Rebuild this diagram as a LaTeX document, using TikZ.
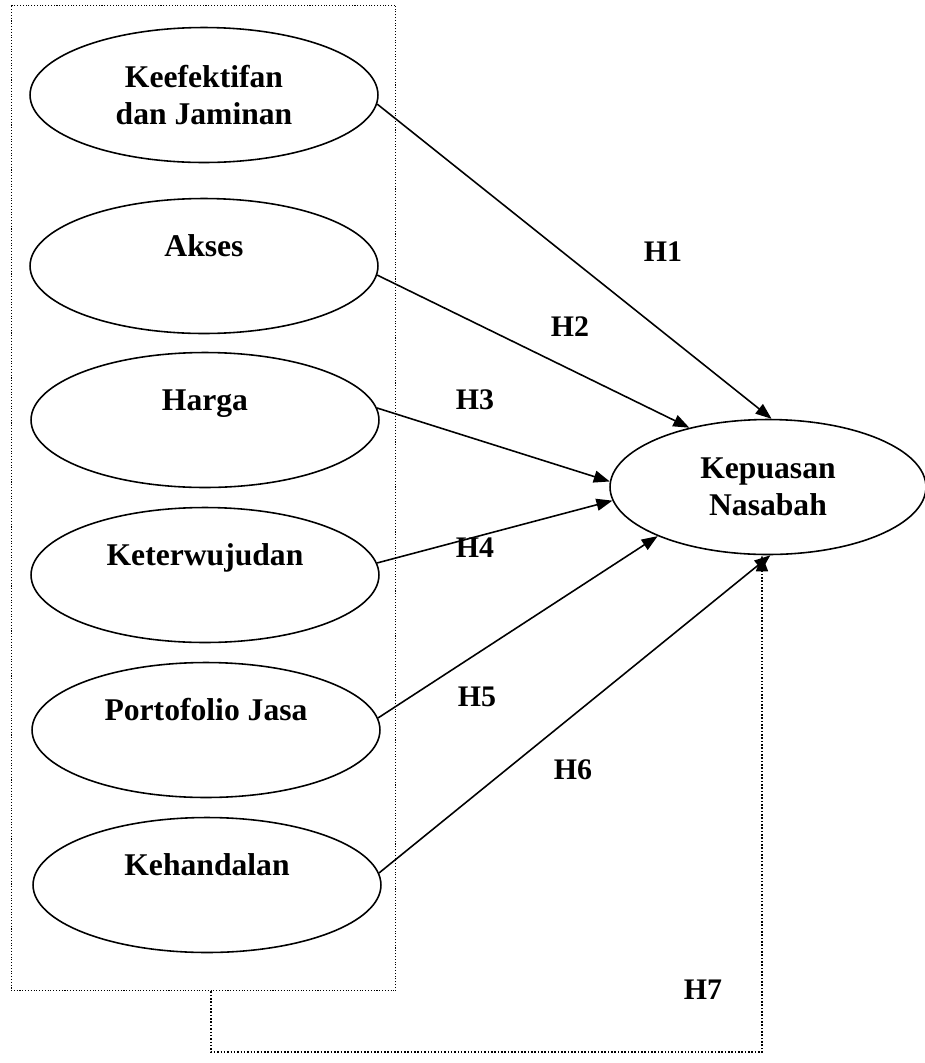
\documentclass[tikz,border=0pt]{standalone}
\usepackage{fontspec}
\setmainfont{Liberation Serif}
\usetikzlibrary{arrows.meta,shapes.geometric}

\begin{document}
\begin{tikzpicture}[x=0.02cm,y=-0.02cm,
    var/.style={draw,ellipse,line width=0.9pt,minimum width=6.96cm,minimum height=2.7cm,inner sep=0pt,
      font=\fontsize{18}{21}\selectfont\bfseries,text height=0.4cm,text depth=0.8cm},
    vartwo/.style={draw,ellipse,line width=0.9pt,minimum width=6.96cm,minimum height=2.7cm,inner sep=0pt,
      font=\fontsize{18}{21}\selectfont\bfseries,align=center},
    hyp/.style={font=\fontsize{17}{20}\selectfont\bfseries},
    arr/.style={-{Triangle[length=0.32cm,width=0.24cm]},line width=0.9pt},
    frame/.style={draw,densely dotted,line width=0.6pt}]
   \useasboundingbox (0,0) rectangle (925,1063);
   % dotted group of the six variables
   \node[frame,minimum width=7.7cm,minimum height=19.72cm,inner sep=0pt] (grup) at (203.5,498) {};
   \node[vartwo] (efektif) at (204,95) {Keefektifan\\dan Jaminan};
   \node[var] (akses) at (204,266) {Akses};
   \node[var] (harga) at (205,420) {Harga};
   \node[var] (wujud) at (205,575) {Keterwujudan};
   \node[var] (porto) at (206,730) {Portofolio Jasa};
   \node[var] (handal) at (207,885) {Kehandalan};
   \node[vartwo,minimum width=6.32cm] (puas) at (768,487) {Kepuasan\\Nasabah};
   % hypotheses
   \draw[arr] (efektif.-3) -- (puas.87);
   \draw[arr] (akses.-3) -- (puas.143);
   \draw[arr] (harga.4) -- (puas.178);
   \draw[arr] (wujud.4) -- (puas.185);
   \draw[arr] (porto.4) -- (puas.204);
   \draw[arr] (handal.4) -- (puas.272);
   \coordinate (h7a) at (211,1052);
   \coordinate (h7b) at (762,1052);
   \draw[frame,arr] (grup.south -| h7a) -- (h7a) -- (h7b) -- (h7b |- puas.south);
   \node[hyp] (h1) at (663,252) {H1};
   \node[hyp] (h2) at (570,327) {H2};
   \node[hyp] (h3) at (475,400) {H3};
   \node[hyp] (h4) at (475,548) {H4};
   \node[hyp] (h5) at (477,697) {H5};
   \node[hyp] (h6) at (573,770) {H6};
   \node[hyp] (h7) at (703,990) {H7};
\end{tikzpicture}
\end{document}
